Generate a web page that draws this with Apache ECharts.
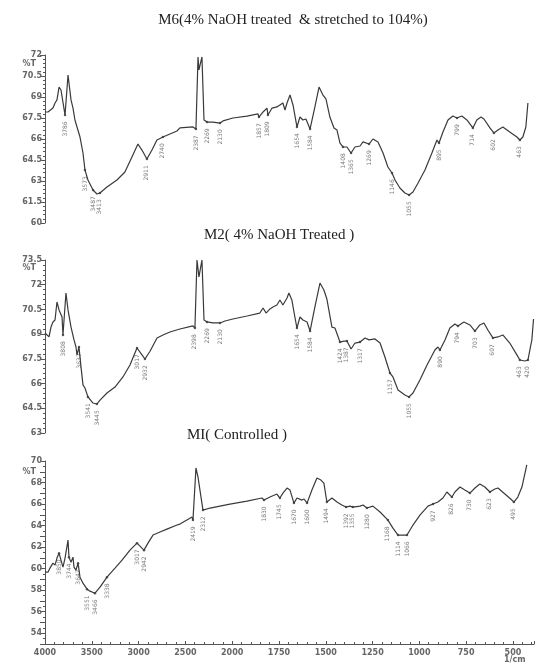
<!DOCTYPE html>
<html>
<head>
<meta charset="utf-8">
<script src="https://cdn.jsdelivr.net/npm/echarts@6/dist/echarts.min.js"></script>
<style>
    html, body { margin: 0; padding: 0; background: #fff; }
    #chart { width: 539px; height: 666px; }
</style>
</head>
<body>
<div id="chart"></div>
<script>
// wavenumber tick labels of the shared bottom axis (scale doubles below 2000)
var xTickLabels = [4000, 3500, 3000, 2500, 2000, 1750, 1500, 1250, 1000, 750, 500];

// M6 (4% NaOH treated & stretched to 104%)
var m6Wn = [4000, 3968, 3947, 3915, 3893, 3872, 3850, 3829, 3808, 3786, 3754, 3722, 3701, 3680, 3658, 3626, 3594, 3573, 3541, 3487,
    3445, 3413, 3338, 3231, 3146, 3071, 3007, 2964, 2911, 2857, 2804, 2740, 2665, 2590,
    2558, 2419, 2387, 2365, 2355, 2323, 2301, 2269, 2205, 2130, 2098, 1996, 1921, 1862, 1857, 1835, 1814, 1809, 1787, 1761,
    1745, 1729, 1718, 1707, 1691, 1675, 1654, 1638, 1622, 1606, 1584, 1558, 1536, 1515, 1499, 1478, 1456, 1440, 1424, 1408,
    1387, 1365, 1344, 1317, 1301, 1269, 1248, 1221, 1194, 1168, 1146, 1130, 1104, 1077, 1055, 1034, 1007, 970, 933, 906,
    895, 874, 847, 821, 799, 773, 746, 714, 693, 671, 655, 623, 602, 580, 554, 517, 479, 463, 447, 431, 420];
var m6T = [67.93, 67.93, 67.79, 68.21, 68.57, 68.79, 69.71, 69.5, 69.43, 67.71, 70.57, 68.79, 68.21, 67.36, 66.86, 66.14, 65.0, 63.79, 63.07, 62.36,
    62.07, 62.14, 62.57, 63.07, 63.64, 64.71, 65.64, 65.21, 64.57, 65.21, 65.93, 66.14, 66.36, 66.57,
    66.79, 66.86, 66.71, 71.86, 70.93, 71.86, 67.36, 67.21, 67.21, 67.14, 67.29, 67.5, 67.64, 67.79, 67.57, 67.93, 68.21, 67.71, 68.21, 68.29,
    68.43, 68.57, 68.07, 68.57, 69.14, 68.43, 66.86, 67.57, 67.36, 67.43, 66.71, 68.29, 69.71, 69.14, 68.86, 67.57, 66.79, 66.64, 65.71, 65.43,
    65.43, 65.0, 65.43, 65.5, 65.79, 65.64, 66.0, 65.79, 65.0, 64.0, 63.57, 63.07, 62.5, 62.14, 62.0, 62.21, 62.86, 63.79, 65.0, 65.93,
    65.71, 66.5, 67.36, 67.64, 67.5, 67.64, 67.36, 66.79, 67.36, 67.57, 67.43, 66.79, 66.43, 66.64, 66.86, 66.5, 66.14, 65.93, 66.14, 66.86, 68.57];
var m6Peaks = [3786, 3573, 3487, 3413, 2911, 2740, 2387, 2269, 2130, 1857, 1809, 1654, 1584, 1408, 1365, 1269, 1146, 1055, 895, 799, 714, 602, 463];

// M2 (4% NaOH treated)
var m2Wn = [4000, 3979, 3957, 3936, 3915, 3893, 3872, 3850, 3818, 3808, 3776, 3754, 3722, 3701, 3690, 3669, 3658, 3637, 3615, 3594,
    3573, 3541, 3487, 3445, 3412, 3338, 3252, 3167, 3092, 3017, 2964, 2932, 2878, 2803, 2739, 2665,
    2558, 2419, 2398, 2376, 2355, 2323, 2301, 2269, 2205, 2130, 2077, 1996, 1921, 1852, 1835, 1819, 1798, 1782, 1761, 1745,
    1729, 1707, 1697, 1681, 1665, 1654, 1638, 1622, 1600, 1584, 1558, 1531, 1510, 1494, 1467, 1451, 1424, 1403, 1387, 1365, 1344, 1317,
    1290, 1269, 1237, 1210, 1184, 1157, 1141, 1114, 1077, 1055, 1034, 997, 959, 917, 901, 890, 863, 837, 810, 794,
    762, 730, 703, 677, 655, 634, 607, 580, 554, 517, 479, 463, 436, 420, 399, 390];
var m2T = [69.07, 69.01, 68.83, 69.43, 69.74, 69.86, 70.95, 70.47, 70.04, 68.95, 71.5, 70.47, 69.43, 69.43, 68.65, 68.22, 67.74, 68.22, 67.0, 65.92,
    65.73, 65.19, 64.82, 64.76, 65.0, 65.43, 65.79, 66.4, 67.13, 68.16, 67.74, 67.49, 67.96, 68.77, 68.95, 69.13,
    69.31, 69.5, 69.37, 73.5, 72.47, 73.5, 69.86, 69.74, 69.68, 69.68, 69.8, 69.92, 70.1, 70.28, 70.59, 70.28, 70.53, 70.65, 70.77, 71.07,
    70.77, 71.19, 71.5, 71.07, 70.04, 69.37, 70.04, 69.86, 69.74, 69.19, 70.65, 72.1, 71.68, 71.13, 69.43, 69.37, 68.52, 68.58, 68.58, 68.1, 68.46, 68.52,
    68.77, 68.65, 68.71, 68.46, 67.61, 66.64, 66.4, 65.61, 65.31, 65.19, 65.43, 66.22, 67.13, 68.04, 68.22, 68.04, 68.65, 69.37, 69.62, 69.5,
    69.74, 69.56, 69.19, 69.56, 69.68, 69.25, 68.77, 68.83, 68.95, 68.46, 67.74, 67.43, 67.37, 67.43, 68.65, 69.92];
var m2Peaks = [3808, 3637, 3541, 3445, 3017, 2932, 2398, 2269, 2130, 1654, 1584, 1424, 1387, 1317, 1157, 1055, 890, 794, 703, 607, 463, 420];

// M1 (controlled)
var m1Wn = [4000, 3968, 3947, 3915, 3893, 3872, 3850, 3829, 3808, 3786, 3754, 3744, 3722, 3701, 3690, 3669, 3647, 3626, 3594, 3573,
    3551, 3519, 3466, 3412, 3338, 3252, 3177, 3092, 3017, 2964, 2942, 2900, 2846, 2771, 2697, 2590,
    2558, 2429, 2419, 2387, 2365, 2333, 2312, 2237, 2024, 1921, 1841, 1830, 1798, 1761, 1745, 1729, 1707, 1691, 1670, 1654,
    1627, 1616, 1600, 1574, 1547, 1526, 1510, 1494, 1467, 1440, 1414, 1392, 1371, 1355, 1317, 1301, 1280, 1248, 1210, 1168,
    1141, 1114, 1088, 1066, 1034, 997, 954, 927, 901, 874, 853, 826, 810, 783, 757, 730, 703, 677, 650, 623,
    597, 580, 543, 506, 495, 474, 452, 426];
var m1T = [59.67, 59.67, 60.05, 60.51, 60.33, 60.98, 61.44, 61.35, 60.14, 60.98, 62.65, 61.07, 60.6, 61.07, 60.14, 59.86, 60.51, 59.21, 58.65, 58.56,
    58.09, 57.91, 57.72, 58.28, 59.21, 60.05, 60.79, 61.72, 62.37, 61.91, 61.72, 62.37, 63.12, 63.4, 63.67, 64.05,
    64.14, 64.79, 64.51, 69.35, 68.51, 66.65, 65.44, 65.63, 66.0, 66.28, 66.56, 66.37, 66.65, 66.93, 66.56, 67.02, 67.49, 67.3, 66.09, 66.56,
    66.37, 66.47, 66.09, 67.3, 68.42, 68.23, 67.95, 66.19, 66.56, 66.19, 65.91, 65.72, 65.81, 65.72, 65.81, 65.91, 65.63, 65.81, 65.26, 64.51,
    63.77, 63.12, 63.12, 63.12, 64.05, 64.98, 65.81, 66.0, 66.19, 66.56, 67.12, 66.65, 67.12, 67.58, 67.3, 67.02, 67.49, 67.86, 67.58, 67.12,
    67.4, 67.49, 66.93, 66.37, 66.19, 66.65, 67.58, 69.63];
var m1Peaks = [3850, 3744, 3647, 3551, 3466, 3338, 3017, 2942, 2419, 2312, 1830, 1745, 1670, 1600, 1494, 1392, 1355, 1280, 1168, 1114, 1066, 927, 826, 730, 623, 495];

// spectrometer axis: 500 cm-1 per unit above 2000, 250 cm-1 per unit below
function toAxis(wn) {
    return wn >= 2000 ? (4000 - wn) / 500 : 4 + (2000 - wn) / 250;
}

function linePoints(wn, t) {
    return wn.map(function (w, i) { return [toAxis(w), t[i], w]; });
}

function peakPoints(wn, t, peaks) {
    var out = [];
    peaks.forEach(function (p) {
        var i = wn.indexOf(p);
        if (i >= 0) out.push([toAxis(p), t[i], p]);
    });
    return out;
}

var axisColor = '#555';
var labelFont = {color: '#666', fontSize: 8, fontFamily: 'DejaVu Sans', fontWeight: 'bold'};

function yAxisFor(idx, min, max, interval, minorSplit, formatter) {
    return {
        type: 'value', gridIndex: idx, min: min, max: max, interval: interval,
        axisLine: {show: true, lineStyle: {color: axisColor, width: 1}},
        axisTick: {show: true, length: 5, lineStyle: {color: axisColor}},
        minorTick: {show: true, splitNumber: minorSplit, length: 2, lineStyle: {color: axisColor}},
        splitLine: {show: false},
        axisLabel: Object.assign({margin: 3, formatter: formatter}, labelFont)
    };
}

function xAxisFor(idx, visible) {
    return {
        type: 'value', gridIndex: idx, min: 0, max: 10.45, interval: 1,
        show: visible,
        axisLine: {show: true, onZero: false, lineStyle: {color: axisColor}},
        axisTick: {show: true, inside: true, length: 3, lineStyle: {color: axisColor}},
        minorTick: {show: true, splitNumber: 5, length: 2, lineStyle: {color: axisColor}},
        splitLine: {show: false},
        axisLabel: Object.assign({margin: 5, formatter: function (v) {
            return Number.isInteger(v) && xTickLabels[v] !== undefined ? String(xTickLabels[v]) : '';
        }}, labelFont)
    };
}

function lineSeries(idx, data) {
    return {
        type: 'line', xAxisIndex: idx, yAxisIndex: idx, data: data,
        showSymbol: false, clip: false,
        lineStyle: {color: '#3a3a3a', width: 1.2}
    };
}

function peakSeries(idx, data) {
    return {
        type: 'scatter', xAxisIndex: idx, yAxisIndex: idx, data: data,
        symbol: 'circle', symbolSize: 2.5,
        itemStyle: {color: '#333'},
        label: {
            show: true, position: 'bottom', distance: 5, rotate: 90,
            align: 'right', verticalAlign: 'middle',
            fontSize: 6, fontFamily: 'DejaVu Sans', color: '#555',
            formatter: function (p) { return String(p.data[2]); }
        }
    };
}

function titleText(x, y, text) {
    return {
        type: 'text', x: x, y: y,
        style: {text: text, textAlign: 'center', textVerticalAlign: 'middle',
            font: '15px "Liberation Serif"', fill: '#222'}
    };
}

function smallText(x, y, text, align) {
    return {
        type: 'text', x: x, y: y,
        style: {text: text, textAlign: align, textVerticalAlign: 'middle',
            font: 'bold 8px "DejaVu Sans"', fill: '#666'}
    };
}

var chart = echarts.init(document.getElementById('chart'));

var option = {
    backgroundColor: '#fff',
    animation: false,
    grid: [
        {left: 45, width: 489, top: 55, height: 168},
        {left: 45, width: 489, top: 260, height: 173},
        {left: 45, width: 489, top: 461, height: 183}
    ],
    xAxis: [xAxisFor(0, false), xAxisFor(1, false), xAxisFor(2, true)],
    yAxis: [
        yAxisFor(0, 60, 72, 1.5, 5),
        yAxisFor(1, 63, 73.5, 1.5, 5),
        yAxisFor(2, 53, 70, 1, 2, function (v) {
            return Number.isInteger(v) && v % 2 === 0 ? String(v) : '';
        })
    ],
    series: [
        lineSeries(0, linePoints(m6Wn, m6T)),
        peakSeries(0, peakPoints(m6Wn, m6T, m6Peaks)),
        lineSeries(1, linePoints(m2Wn, m2T)),
        peakSeries(1, peakPoints(m2Wn, m2T, m2Peaks)),
        lineSeries(2, linePoints(m1Wn, m1T)),
        peakSeries(2, peakPoints(m1Wn, m1T, m1Peaks))
    ],
    graphic: [
        titleText(293, 20, 'M6(4% NaOH treated  & stretched to 104%)'),
        titleText(279, 235, 'M2( 4% NaOH Treated )'),
        titleText(237, 435, 'MI( Controlled )'),
        smallText(36, 64, '%T', 'right'),
        smallText(36, 268, '%T', 'right'),
        smallText(36, 472, '%T', 'right'),
        smallText(504, 660, '1/cm', 'left')
    ]
};

chart.setOption(option);
</script>
</body>
</html>
